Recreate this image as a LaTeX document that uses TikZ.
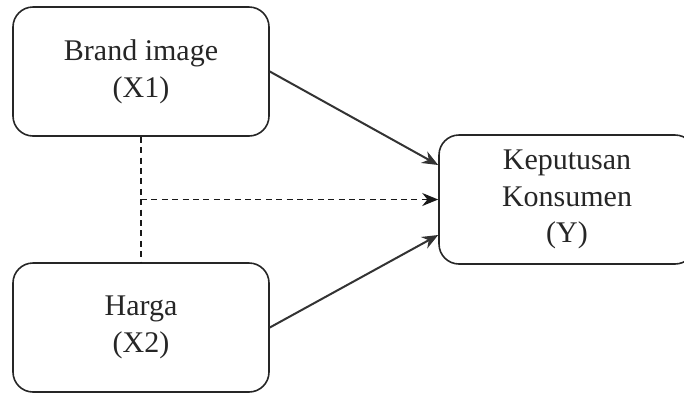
\documentclass[tikz,border=0pt]{standalone}
\usepackage{fontspec}
\setmainfont{Liberation Serif}
\usetikzlibrary{arrows.meta,calc}
\begin{document}
\begin{tikzpicture}[x=0.5pt,y=-0.5pt,
  box/.style={draw=black!85, line width=0.8pt, rounded corners=10pt, fill=white,
    minimum width=128pt, minimum height=64.5pt, align=center, inner sep=0pt,
    font=\fontsize{15}{18.3}\selectfont, text=black!85},
  solidarrow/.style={draw=black!80, line width=1pt, -{Stealth[length=8pt,width=6.5pt]}},
  dasharrow/.style={draw=black!90, line width=0.75pt, dash pattern=on 3pt off 2.2pt, -{Stealth[length=8pt,width=6.5pt]}},
  dashline/.style={draw=black!90, line width=0.75pt, dash pattern=on 3pt off 2.2pt}]
\useasboundingbox (0,0) rectangle (684,392);
\node[box] (b1) at (141,71.5) {Brand image\\(X1)};
\node[box] (h) at (141,327.5) {Harga\\(X2)};
\node[box] (k) at (567,199.5) {Keputusan\\Konsumen\\(Y)};
\draw[dashline] (b1.south) -- (h.north);
\coordinate (m) at ($(b1.south)!0.5!(h.north)$);
\draw[dasharrow] (m) -- (k.west);
\draw[solidarrow] (b1.east) -- ([yshift=17.25pt]k.west);
\draw[solidarrow] (h.east) -- ([yshift=-17.75pt]k.west);
\end{tikzpicture}
\end{document}
